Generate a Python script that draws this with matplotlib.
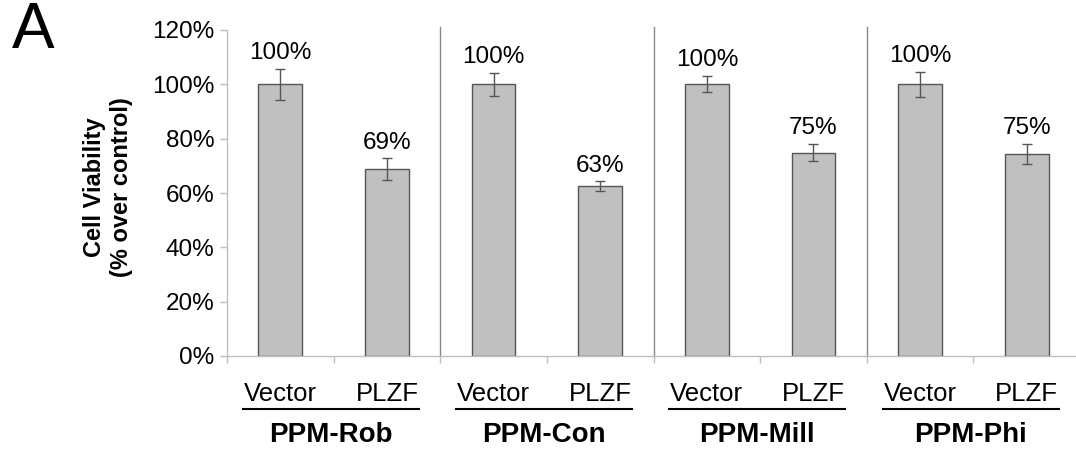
import matplotlib
matplotlib.use("Agg")
import matplotlib.pyplot as plt
import numpy as np

plt.rcParams['font.family'] = ['Liberation Sans', 'DejaVu Sans']

groups = ['PPM-Rob', 'PPM-Con', 'PPM-Mill', 'PPM-Phi']
conditions = ['Vector', 'PLZF']
values = [100, 68.8, 100, 62.5, 100, 74.9, 100, 74.5]
errors = [5.7, 4.0, 4.2, 1.8, 3.0, 3.2, 4.6, 3.7]
value_labels = ['100%', '69%', '100%', '63%', '100%', '75%', '100%', '75%']
yticks = [0, 20, 40, 60, 80, 100, 120]

fig = plt.figure(figsize=(10.76, 4.53), dpi=100)
ax = fig.add_axes([227 / 1076, 97 / 453, 853 / 1076, 326 / 453])

x = np.arange(len(values))
ax.bar(x, values, width=0.41, color='#c0c0c0', edgecolor='#555555', linewidth=1, zorder=2)
ax.errorbar(x, values, yerr=errors, fmt='none', ecolor='#555555', elinewidth=1,
            capsize=3.3, capthick=1, zorder=3)

for xi, v, e, lab in zip(x, values, errors, value_labels):
    ax.annotate(lab, (xi, v + e), xytext=(0, 7), textcoords='offset points',
                ha='center', va='baseline', fontsize=17.5)

ax.set_xlim(-0.5, 7.5)
ax.set_ylim(0, 120)
ax.set_yticks(yticks)
ax.set_yticklabels([f'{t}%' for t in yticks], fontsize=17.5)
ax.set_xticks(np.arange(-0.5, 8, 1))
ax.set_xticklabels([])
ax.tick_params(axis='both', color='#bfbfbf', length=5, width=1)
ax.tick_params(axis='y', pad=4)

for s in ['top', 'right']:
    ax.spines[s].set_visible(False)
for s in ['left', 'bottom']:
    ax.spines[s].set_color('#bfbfbf')
    ax.spines[s].set_linewidth(1)

# group separators
for sep in [1.5, 3.5, 5.5]:
    ax.plot([sep, sep], [0, 121], color='#888888', linewidth=1, clip_on=False, zorder=1)

trans = ax.get_xaxis_transform()
for gi, g in enumerate(groups):
    for ci, c in enumerate(conditions):
        ax.text(2 * gi + ci, -0.117, c, transform=trans, ha='center', va='center', fontsize=18.5)
    ax.plot([2 * gi - 0.35, 2 * gi + 1.3], [-0.163, -0.163], color='black', linewidth=1.5,
            transform=trans, clip_on=False)
    ax.text(2 * gi + 0.47, -0.242, g, transform=trans, ha='center', va='center',
            fontsize=20, fontweight='bold')

fig.text(108 / 1076, 1 - 187 / 453, 'Cell Viability\n(% over control)', rotation=90,
         ha='center', va='center', fontsize=17, fontweight='bold')
fig.text(33 / 1076, 1 - 31 / 453, 'A', ha='center', va='center', fontsize=46)

fig.savefig('out.png', dpi=100)
